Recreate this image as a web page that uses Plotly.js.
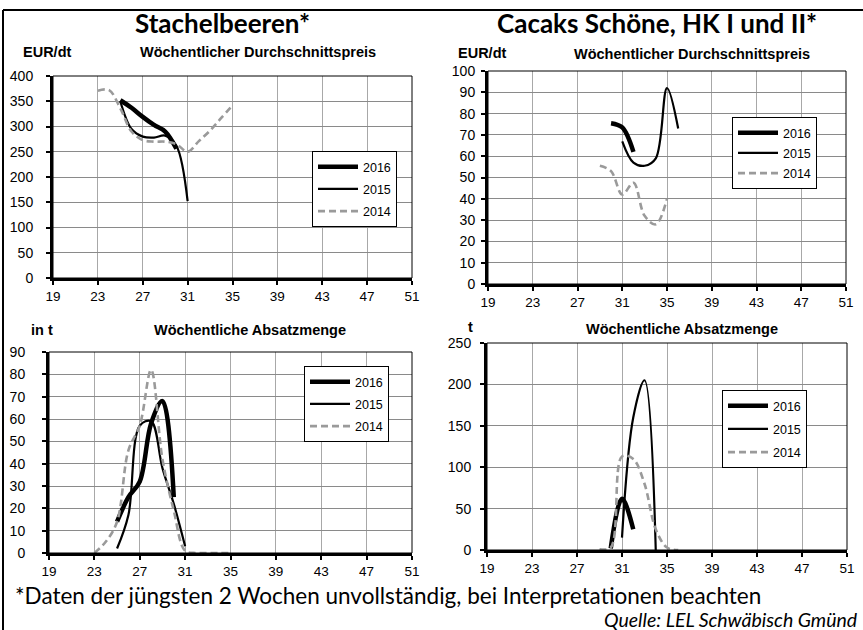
<!DOCTYPE html>
<html>
<head>
<meta charset="utf-8">
<script src="https://cdn.plot.ly/plotly-3.0.1.min.js"></script>
<style>html,body{margin:0;padding:0;background:#fff;}#chart{width:863px;height:630px;}</style>
</head>
<body>
<div id="chart"></div>
<script>
// ---- Data ----
const seriesNames = ['2016', '2015', '2014'];
const weekTicks = [19, 23, 27, 31, 35, 39, 43, 47, 51];

// Stachelbeeren – Wöchentlicher Durchschnittspreis (EUR/dt)
const slWeeks2016 = [25, 26, 27, 28, 29, 30];
const slPrice2016 = [352, 337, 319, 303, 290, 256];
const slWeeks2015 = [25, 26, 27, 28, 29, 30, 31];
const slPrice2015 = [350, 295, 280, 278, 282, 262, 152];
const slWeeks2014 = [23, 24, 25, 26, 27, 28, 29, 30, 31, 32, 33, 34, 35];
const slPrice2014 = [371, 372, 336, 290, 273, 270, 270, 265, 250, 271, 292, 317, 342];

// Cacaks Schöne – Wöchentlicher Durchschnittspreis (EUR/dt)
const caWeeks2016 = [30, 31, 32];
const caPrice2016 = [75.5, 73.5, 62];
const caWeeks2015 = [31, 32, 33, 34, 35, 36];
const caPrice2015 = [67, 57, 55.5, 59, 92, 73];
const caWeeks2014 = [29, 30, 31, 32, 33, 34, 35];
const caPrice2014 = [55.5, 53, 42, 47.5, 32, 28, 40];

// Stachelbeeren – Wöchentliche Absatzmenge (t)
const saWeeks2016 = [25, 26, 27, 28, 29, 30];
const saQty2016 = [14, 25, 32, 58, 68, 25];
const saWeeks2015 = [25, 26, 27, 28, 29, 30, 31];
const saQty2015 = [2, 17, 57, 59, 38, 22, 3];
const saWeeks2014 = [23, 24, 25, 26, 27, 28, 29, 30, 31, 32, 33, 34, 35];
const saQty2014 = [0, 5, 14, 46, 57, 82, 42, 19, 1, 0, 0, 0, 0];

// Cacaks Schöne – Wöchentliche Absatzmenge (t)
const cqWeeks2016 = [30, 31, 32];
const cqQty2016 = [2, 62, 25];
const cqWeeks2015 = [31, 32, 33, 34];
const cqQty2015 = [15, 160, 205, 0];
const cqWeeks2014 = [29, 30, 31, 32, 33, 34, 35, 36];
const cqQty2014 = [1, 3, 113, 110, 80, 25, 3, 0];

// ---- Styling ----
const W = 863, H = 630;
const px = x => x / W;
const py = y => 1 - y / H;
const lineStyles = [
  {color: '#000000', width: 4.5},
  {color: '#000000', width: 2.2},
  {color: '#9a9a9a', width: 2.6, dash: '7px,4px'}
];

function mk(x, y, idx, ax, leg) {
  return {
    type: 'scatter', mode: 'lines', x: x, y: y,
    name: seriesNames[idx], legendgroup: leg + seriesNames[idx],
    xaxis: 'x' + ax, yaxis: 'y' + ax, legend: leg,
    line: Object.assign({shape: 'spline', smoothing: 1}, lineStyles[idx]),
    hoverinfo: 'skip'
  };
}

const traces = [
  mk(slWeeks2016, slPrice2016, 0, '', 'legend'),
  mk(slWeeks2015, slPrice2015, 1, '', 'legend'),
  mk(slWeeks2014, slPrice2014, 2, '', 'legend'),
  mk(caWeeks2016, caPrice2016, 0, '2', 'legend2'),
  mk(caWeeks2015, caPrice2015, 1, '2', 'legend2'),
  mk(caWeeks2014, caPrice2014, 2, '2', 'legend2'),
  mk(saWeeks2016, saQty2016, 0, '3', 'legend3'),
  mk(saWeeks2015, saQty2015, 1, '3', 'legend3'),
  mk(saWeeks2014, saQty2014, 2, '3', 'legend3'),
  mk(cqWeeks2016, cqQty2016, 0, '4', 'legend4'),
  mk(cqWeeks2015, cqQty2015, 1, '4', 'legend4'),
  mk(cqWeeks2014, cqQty2014, 2, '4', 'legend4')
];

const tickFamily = 'Liberation Sans, Arial, sans-serif';
function xAx(l, r, anchor) {
  return {
    domain: [px(l), px(r)], anchor: anchor, range: [19, 51],
    tickmode: 'array', tickvals: weekTicks, ticktext: weekTicks.map(String),
    showgrid: true, gridcolor: '#a8a8a8', gridwidth: 1,
    showline: true, linecolor: '#000', linewidth: 3,
    ticks: 'outside', ticklen: 4, tickwidth: 2, tickcolor: '#000',
    zeroline: false, fixedrange: true,
    tickfont: {family: tickFamily, size: 13.5, color: '#000'}
  };
}
function yAx(t, b, anchor, max, dtick, standoff) {
  return {
    domain: [py(b), py(t)], anchor: anchor, range: [0, max],
    tick0: 0, dtick: dtick, tickmode: 'linear',
    showgrid: true, gridcolor: '#8a8a8a', gridwidth: 1,
    showline: true, linecolor: '#000', linewidth: 3,
    ticks: 'outside', ticklen: 4, tickwidth: 2, tickcolor: '#000',
    zeroline: false, fixedrange: true, ticklabelstandoff: standoff,
    tickfont: {family: tickFamily, size: 14, color: '#000'}
  };
}
function legendAt(x, y, gap) {
  return {
    x: px(x), y: py(y), xanchor: 'left', yanchor: 'top',
    bordercolor: '#000', borderwidth: 1, bgcolor: '#fff',
    font: {family: tickFamily, size: 12.5, color: '#000'},
    tracegroupgap: gap, itemwidth: 40, traceorder: 'grouped'
  };
}
function ann(text, x, y, size, opts) {
  return Object.assign({
    text: text, xref: 'paper', yref: 'paper', x: px(x), y: py(y),
    xanchor: 'center', yanchor: 'middle', showarrow: false,
    font: {family: tickFamily, size: size, color: '#000'}
  }, opts || {});
}
const titleFont = {family: 'Lato, Noto Sans, sans-serif', size: 26, color: '#000', weight: 'bold'};
function borderRect(ax) {
  return {type: 'rect', xref: 'x' + ax + ' domain', yref: 'y' + ax + ' domain',
          x0: 0, x1: 1, y0: 0, y1: 1, line: {color: '#000', width: 1}, layer: 'above'};
}

const layout = {
  width: W, height: H, margin: {l: 0, r: 0, t: 0, b: 0},
  paper_bgcolor: '#fff', plot_bgcolor: '#fff', showlegend: true,
  font: {family: tickFamily, size: 13, color: '#000'},
  xaxis: xAx(53, 412, 'y'),
  yaxis: yAx(76, 278, 'x', 400, 50, 10),
  xaxis2: xAx(488, 846, 'y2'),
  yaxis2: yAx(71, 284, 'x2', 100, 10, 3),
  xaxis3: xAx(49, 412, 'y3'),
  yaxis3: yAx(352, 553, 'x3', 90, 10, 14),
  xaxis4: xAx(487, 847, 'y4'),
  yaxis4: yAx(343, 550, 'x4', 250, 50, 6),
  legend: legendAt(312, 151, 3),
  legend2: legendAt(732, 117, 1),
  legend3: legendAt(304, 366, 3),
  legend4: legendAt(722, 390, 4),
  shapes: [
    borderRect(''), borderRect('2'), borderRect('3'), borderRect('4'),
    {type: 'line', xref: 'paper', yref: 'paper', x0: px(3), x1: 1, y0: py(10), y1: py(10), line: {color: '#000', width: 2}},
    {type: 'line', xref: 'paper', yref: 'paper', x0: px(3), x1: px(3), y0: 0, y1: py(10), line: {color: '#000', width: 2}}
  ],
  annotations: [
    ann('Stachelbeeren*', 222, 23, 26, {font: titleFont}),
    ann('Cacaks Schöne, HK I und II*', 657, 23, 26, {font: titleFont}),
    ann('<b>EUR/dt</b>', 47, 52, 14.5),
    ann('<b>Wöchentlicher Durchschnittspreis</b>', 258, 52, 14.5),
    ann('<b>EUR/dt</b>', 483, 53, 14.5),
    ann('<b>Wöchentlicher Durchschnittspreis</b>', 692, 54, 14.5),
    ann('<b>in t</b>', 42, 330, 14.5),
    ann('<b>Wöchentliche Absatzmenge</b>', 250, 330, 14.5),
    ann('<b>t</b>', 470, 327, 14.5),
    ann('<b>Wöchentliche Absatzmenge</b>', 682, 329, 14.5),
    ann('*Daten der jüngsten 2 Wochen unvollständig, bei Interpretationen beachten', 13, 595, 22.5,
        {xanchor: 'left', font: {family: 'Lato, Noto Sans, sans-serif', size: 22.5, color: '#000'}}),
    ann('<i>Quelle: LEL Schwäbisch Gmünd</i>', 860, 619, 19.5,
        {xanchor: 'right', font: {family: 'Lato, Noto Sans, sans-serif', size: 19.5, color: '#000'}})
  ]
};

Plotly.newPlot('chart', traces, layout, {displayModeBar: false, staticPlot: true});
</script>
</body>
</html>
